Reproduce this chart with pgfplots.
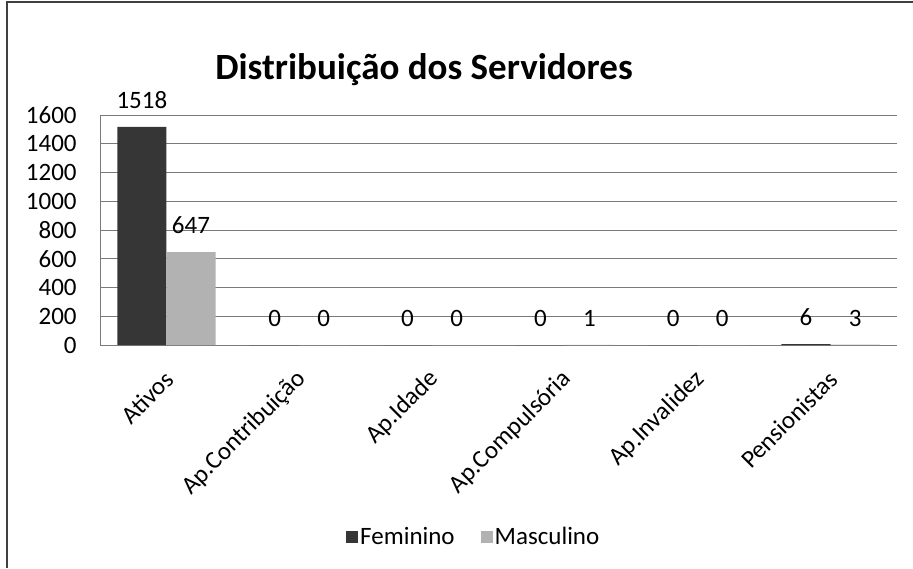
\documentclass[border=0pt]{standalone}
\usepackage{fontspec}
\setmainfont{Carlito}
\usepackage{pgfplots}
\pgfplotsset{compat=1.18}
\definecolor{fem}{HTML}{363636}
\definecolor{masc}{HTML}{B2B2B2}
\definecolor{gridc}{HTML}{7A7A7A}
\begin{document}
\begin{tikzpicture}
\path[use as bounding box] (-50pt,-111.5pt) rectangle (406.5pt,172.5pt);
\draw[black!75, line width=0.9pt] (-46.5pt,-111.5pt) -- (-46.5pt,171.5pt) -- (406.5pt,171.5pt);
\begin{axis}[
  at={(0,0)}, anchor=south west,
  scale only axis, width=398.5pt, height=115pt,
  ybar=0pt, bar width=0.37,
  xmin=-0.5, xmax=5.5, ymin=0, ymax=1600,
  ytick={0,200,...,1600},
  xtick={0,...,5},
  xticklabels={Ativos,Ap.Contribuição,Ap.Idade,Ap.Compulsória,Ap.Invalidez,Pensionistas},
  major tick length=0pt,
  ymajorgrids, grid style={gridc, line width=0.5pt},
  axis line style={gridc, line width=0.5pt},
  axis x line*=bottom, axis y line*=left,
  /pgf/number format/assume math mode=true,
  /pgf/number format/1000 sep={},
  tick label style={font=\fontsize{12.5}{15}\selectfont},
  yticklabel style={anchor=east, inner sep=0pt, xshift=-11.5pt},
  xticklabel style={xshift=1.5pt, yshift=-15pt, rotate=45, anchor=east, inner sep=0pt},
  nodes near coords,
  nodes near coords style={font=\fontsize{12.5}{15}\selectfont, anchor=south, inner sep=0pt, yshift=9pt},
  legend style={at={(0.469,-0.835)}, anchor=center, draw=none, fill=none, legend columns=2,
    font=\fontsize{12.5}{15}\selectfont,
    nodes={inner sep=1pt},
    /tikz/every even column/.append style={column sep=12pt}},
  legend image code/.code={\fill[#1] (0pt,-3pt) rectangle (6pt,3pt);},
]
\addplot[fill=fem, draw=none] coordinates {(0,1518) (1,0) (2,0) (3,0) (4,0) (5,6)};
\addplot[fill=masc, draw=none] coordinates {(0,647) (1,0) (2,0) (3,1) (4,0) (5,3)};
\legend{Feminino, Masculino}
\end{axis}
\node[font=\fontsize{18.5}{22}\selectfont\bfseries, anchor=base] at (162pt,132.5pt) {Distribuição dos Servidores};
\end{tikzpicture}
\end{document}
